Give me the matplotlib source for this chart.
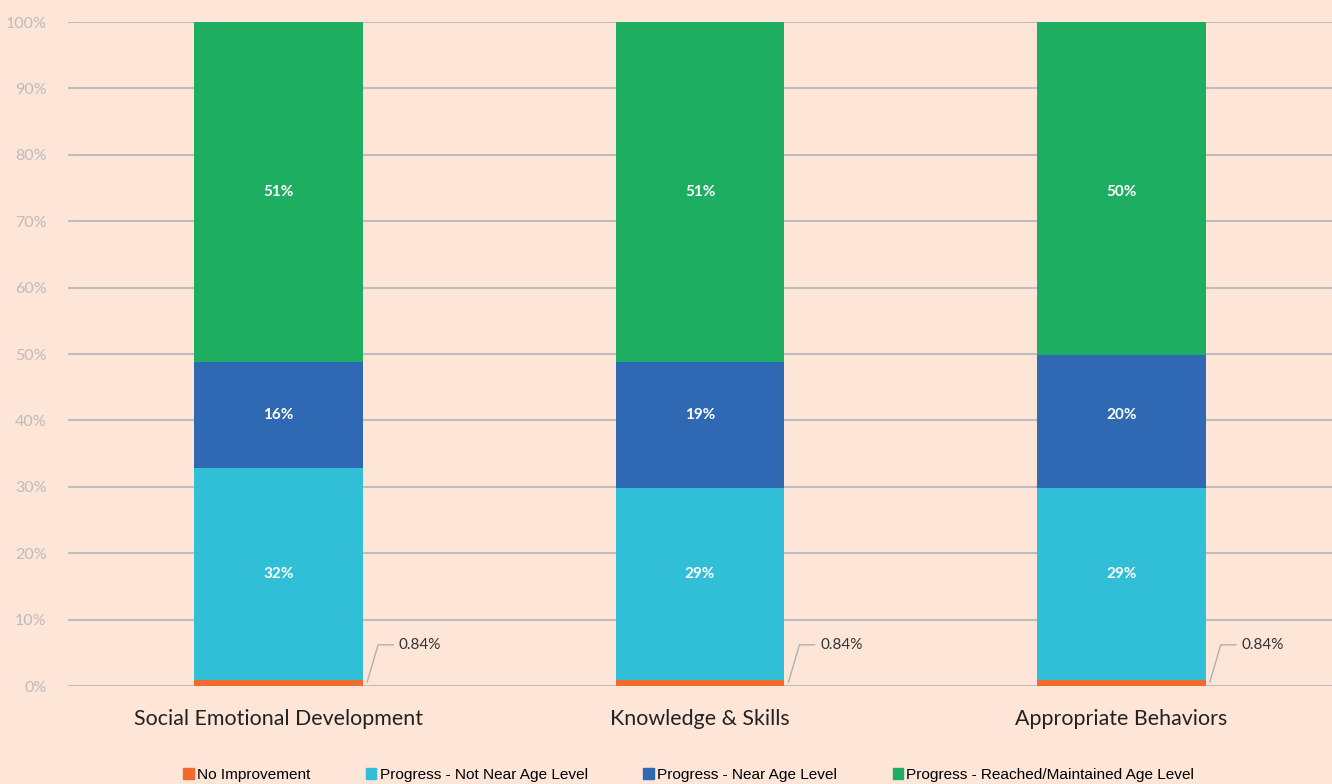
import numpy as np
import matplotlib.pyplot as plt
from matplotlib.patches import Patch

categories = ["Social Emotional Development", "Knowledge & Skills", "Appropriate Behaviors"]
series_names = ["No Improvement", "Progress - Not Near Age Level",
                "Progress - Near Age Level", "Progress - Reached/Maintained Age Level"]
no_improvement = [0.84, 0.84, 0.84]
not_near = [32, 29, 29]
near = [16, 19, 20]
reached = [51.16, 51.16, 50.16]
seg_labels = [["32%", "16%", "51%"], ["29%", "19%", "51%"], ["29%", "20%", "50%"]]

colors = ["#F26A2E", "#30BFD6", "#2F69B3", "#1DAE61"]
bg = "#FDE5D8"
plt.rcParams['font.family'] = ['Lato', 'DejaVu Sans']

fig = plt.figure(figsize=(13.32, 7.84), dpi=100, facecolor=bg)
ax = fig.add_axes([68 / 1332, 98 / 784, 1 - 68 / 1332, 664 / 784])
ax.set_facecolor(bg)

x = np.arange(len(categories))
w = 0.4
series = [no_improvement, not_near, near, reached]
bottom = np.zeros(len(categories))
for vals, c in zip(series, colors):
    ax.bar(x, vals, w, bottom=bottom, color=c, zorder=3)
    bottom += np.array(vals)

# label rows line up across bars, at the first bar's segment middles
label_y = []
base = no_improvement[0]
for vals in series[1:]:
    label_y.append(base + vals[0] / 2)
    base += vals[0]

for i in range(len(categories)):
    for j in range(3):
        ax.text(x[i], label_y[j], seg_labels[i][j], color="white",
                fontsize=11, fontweight="bold", ha="center", va="center", zorder=4)
    # leader line for the tiny orange segment
    x0 = x[i] + w / 2 + 0.01
    ax.plot([x0, x0 + 0.026, x0 + 0.062], [0.6, 6.2, 6.2], color="#b0b0b0",
            lw=1, zorder=4, clip_on=False)
    ax.text(x0 + 0.075, 6.2, "0.84%", color="#333333", fontsize=11,
            ha="left", va="center")

ax.set_xlim(-0.5, 2.5)
ax.set_ylim(0, 100)
ax.set_yticks(range(0, 101, 10))
ax.set_yticklabels([f"{v}%" for v in range(0, 101, 10)], color="#bfbaba", fontsize=11.5)
ax.yaxis.grid(True, color="#bdbdbd", lw=1.5, zorder=0)
ax.tick_params(axis="y", length=0, pad=15.5)
ax.tick_params(axis="x", length=0, pad=16.5)
ax.set_xticks(x)
ax.set_xticklabels(categories, fontsize=15.4, color="#222222")
for s in ax.spines.values():
    s.set_visible(False)

handles = [Patch(color=c) for c in colors]
fig.legend(handles, series_names, loc="lower center", bbox_to_anchor=(0.517, -0.015),
           ncol=4, frameon=False, handlelength=0.7, handleheight=0.7,
           handletextpad=0.2, columnspacing=3.6,
           prop={"family": ["Liberation Sans", "DejaVu Sans"], "size": 11.1})

fig.savefig("out.png", dpi=100, facecolor=bg)
